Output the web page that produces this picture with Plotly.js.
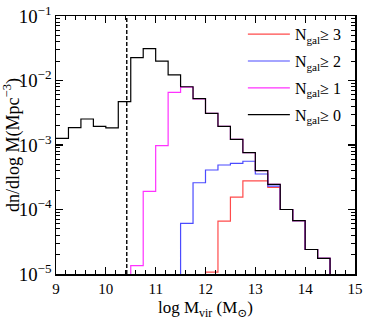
<!DOCTYPE html>
<html>
<head>
<meta charset="utf-8">
<script src="https://cdn.plot.ly/plotly-3.0.1.min.js"></script>
<style>html,body{margin:0;padding:0;background:#fff;}#chart{width:374px;height:320px;}</style>
</head>
<body>
<div id="chart"></div>
<script>
// left edges of log Mvir bins (width 0.25), last entry is the closing edge
const binEdges = [9.0, 9.25, 9.5, 9.75, 10.0, 10.25, 10.5, 10.75, 11.0, 11.25, 11.5, 11.75,
                  12.0, 12.25, 12.5, 12.75, 13.0, 13.25, 13.5, 13.75, 14.0, 14.25, 14.5];

// dn/dlogM per bin (0 = empty bin)
const nGal0 = [1.27e-3, 1.86e-3, 2.53e-3, 1.95e-3, 1.84e-3, 4.7e-3, 2.26e-2, 3.11e-2, 2.0e-2, 1.22e-2, 8.0e-3, 5.23e-3,
               3.1e-3, 1.95e-3, 1.22e-3, 7.6e-4, 4.0e-4, 2.45e-4, 1.0e-4, 6.7e-5, 2.4e-5, 1.75e-5];
const nGal1 = [0, 0, 0, 0, 0, 0, 1.35e-5, 1.91e-4, 9.8e-4, 6.56e-3, 7.9e-3, 5.2e-3,
               3.1e-3, 1.95e-3, 1.22e-3, 7.6e-4, 4.0e-4, 2.45e-4, 1.0e-4, 6.7e-5, 2.4e-5, 1.75e-5];
const nGal2 = [0, 0, 0, 0, 0, 0, 0, 0, 0, 0, 6.1e-5, 2.6e-4,
               4.1e-4, 4.9e-4, 5.2e-4, 5.6e-4, 3.55e-4, 2.3e-4, 1.0e-4, 6.7e-5, 2.4e-5, 1.75e-5];
const nGal3 = [0, 0, 0, 0, 0, 0, 0, 0, 0, 0, 0, 0,
               1.07e-5, 6.6e-5, 1.56e-4, 2.77e-4, 2.77e-4, 2.2e-4, 1.0e-4, 6.7e-5, 2.4e-5, 1.75e-5];

const seriesNames = ['N<sub>gal</sub>≥ 3', 'N<sub>gal</sub>≥ 2', 'N<sub>gal</sub>≥ 1', 'N<sub>gal</sub>≥ 0'];
const seriesColors = ['rgb(255,75,75)', 'rgb(75,75,255)', 'rgb(255,50,255)', 'rgb(0,0,0)'];
const massCut = 10.42;

const FLOOR = 1e-9; // empty bins drawn below the visible range
function stepTrace(vals, name, color, i) {
  const y = vals.map(v => v > 0 ? v : FLOOR);
  y.push(FLOOR); // close the last bin down to the axis
  return {
    x: binEdges, y: y, name: name, type: 'scatter', mode: 'lines',
    legendgroup: 'g' + i,
    line: {shape: 'hv', color: color, width: 1.2}
  };
}

const traces = [0, 1, 2, 3].map(i =>
  stepTrace([nGal3, nGal2, nGal1, nGal0][i], seriesNames[i], seriesColors[i], i));

const font = {family: 'Liberation Serif, DejaVu Serif, serif', color: '#000'};

const layout = {
  width: 374, height: 320,
  margin: {l: 56, r: 19, t: 16, b: 46},
  paper_bgcolor: '#fff', plot_bgcolor: '#fff',
  font: Object.assign({size: 15}, font),
  showlegend: true,
  legend: {
    x: 0.625, y: 0.995, xanchor: 'left', yanchor: 'top',
    bgcolor: 'rgba(0,0,0,0)', borderwidth: 0,
    traceorder: 'grouped', tracegroupgap: 3, itemwidth: 42,
    font: Object.assign({size: 16}, font)
  },
  xaxis: {
    range: [9, 15], dtick: 1, tick0: 9,
    ticks: 'inside', ticklen: 7, tickwidth: 1.3, tickcolor: '#000',
    minor: {dtick: 0.2, ticks: 'inside', ticklen: 4, tickwidth: 1, tickcolor: '#000', showgrid: false},
    showgrid: false, zeroline: false,
    showline: true, linecolor: '#000', linewidth: 1.5, mirror: 'allticks',
    tickfont: Object.assign({size: 15}, font),
    title: {text: 'log M<sub>vir</sub> (M<sub>⊙</sub>)', font: Object.assign({size: 17}, font), standoff: 6}
  },
  yaxis: {
    type: 'log', range: [-5, -1], dtick: 1,
    exponentformat: 'power', showexponent: 'all',
    ticks: 'inside', ticklen: 7, tickwidth: 1.3, tickcolor: '#000',
    minor: {dtick: 'D1', ticks: 'inside', ticklen: 4, tickwidth: 1, tickcolor: '#000', showgrid: false},
    showgrid: false, zeroline: false,
    showline: true, linecolor: '#000', linewidth: 1.5, mirror: 'allticks',
    tickfont: Object.assign({size: 15}, font),
    title: {text: 'dn/dlog M(Mpc<sup>−3</sup>)', font: Object.assign({size: 18}, font), standoff: 0}
  },
  shapes: [{
    type: 'line', xref: 'x', yref: 'paper', x0: massCut, x1: massCut, y0: 0, y1: 1,
    line: {color: '#000', width: 1.4, dash: '4px,2px'}
  }]
};

Plotly.newPlot('chart', traces, layout, {staticPlot: true, displayModeBar: false});
</script>
</body>
</html>
